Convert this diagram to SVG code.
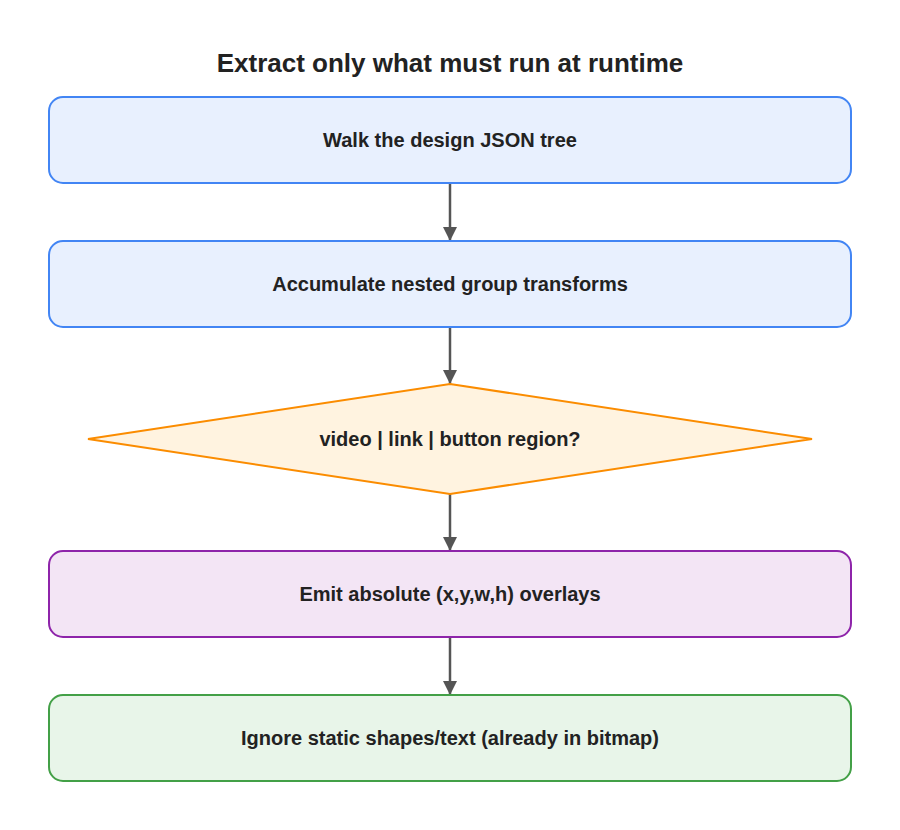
<svg xmlns="http://www.w3.org/2000/svg" width="900" height="830" viewBox="0 0 900 830">
<style>
text{font-family:"Liberation Sans",Arial,sans-serif;font-weight:bold;fill:#222;text-anchor:middle;dominant-baseline:central}
.t{font-size:20px}
.e{stroke:#555;stroke-width:2.5;fill:none;marker-end:url(#a)}
</style>
<defs><marker id="a" viewBox="0 0 10 10" refX="10" refY="5" markerWidth="14" markerHeight="14" orient="auto" markerUnits="userSpaceOnUse"><path d="M0,0L10,5L0,10z" fill="#555"/></marker>
</defs>
<rect width="900" height="830" fill="#fff"/>
<text x="450" y="63" style="font-size:26px">Extract only what must run at runtime</text>
<g id="connectors">
<line class="e" x1="450" y1="184" x2="450" y2="241"/>
<line class="e" x1="450" y1="328" x2="450" y2="384"/>
<line class="e" x1="450" y1="494" x2="450" y2="551"/>
<line class="e" x1="450" y1="638" x2="450" y2="695"/>
</g>
<g id="n1"><rect x="49" y="97" width="802" height="86" rx="14" fill="#e8f0fe" stroke="#4285f4" stroke-width="2"/><text class="t" x="450" y="140">Walk the design JSON tree</text></g>
<g id="n2"><rect x="49" y="241" width="802" height="86" rx="14" fill="#e8f0fe" stroke="#4285f4" stroke-width="2"/><text class="t" x="450" y="284">Accumulate nested group transforms</text></g>
<g id="n3"><polygon points="450,384 812,439 450,494 88,439" fill="#fff3e0" stroke="#fb8c00" stroke-width="2"/><text class="t" x="450" y="439">video | link | button region?</text></g>
<g id="n4"><rect x="49" y="551" width="802" height="86" rx="14" fill="#f3e5f5" stroke="#8e24aa" stroke-width="2"/><text class="t" x="450" y="594">Emit absolute (x,y,w,h) overlays</text></g>
<g id="n5"><rect x="49" y="695" width="802" height="86" rx="14" fill="#e8f5e9" stroke="#43a047" stroke-width="2"/><text class="t" x="450" y="738">Ignore static shapes/text (already in bitmap)</text></g>
</svg>
